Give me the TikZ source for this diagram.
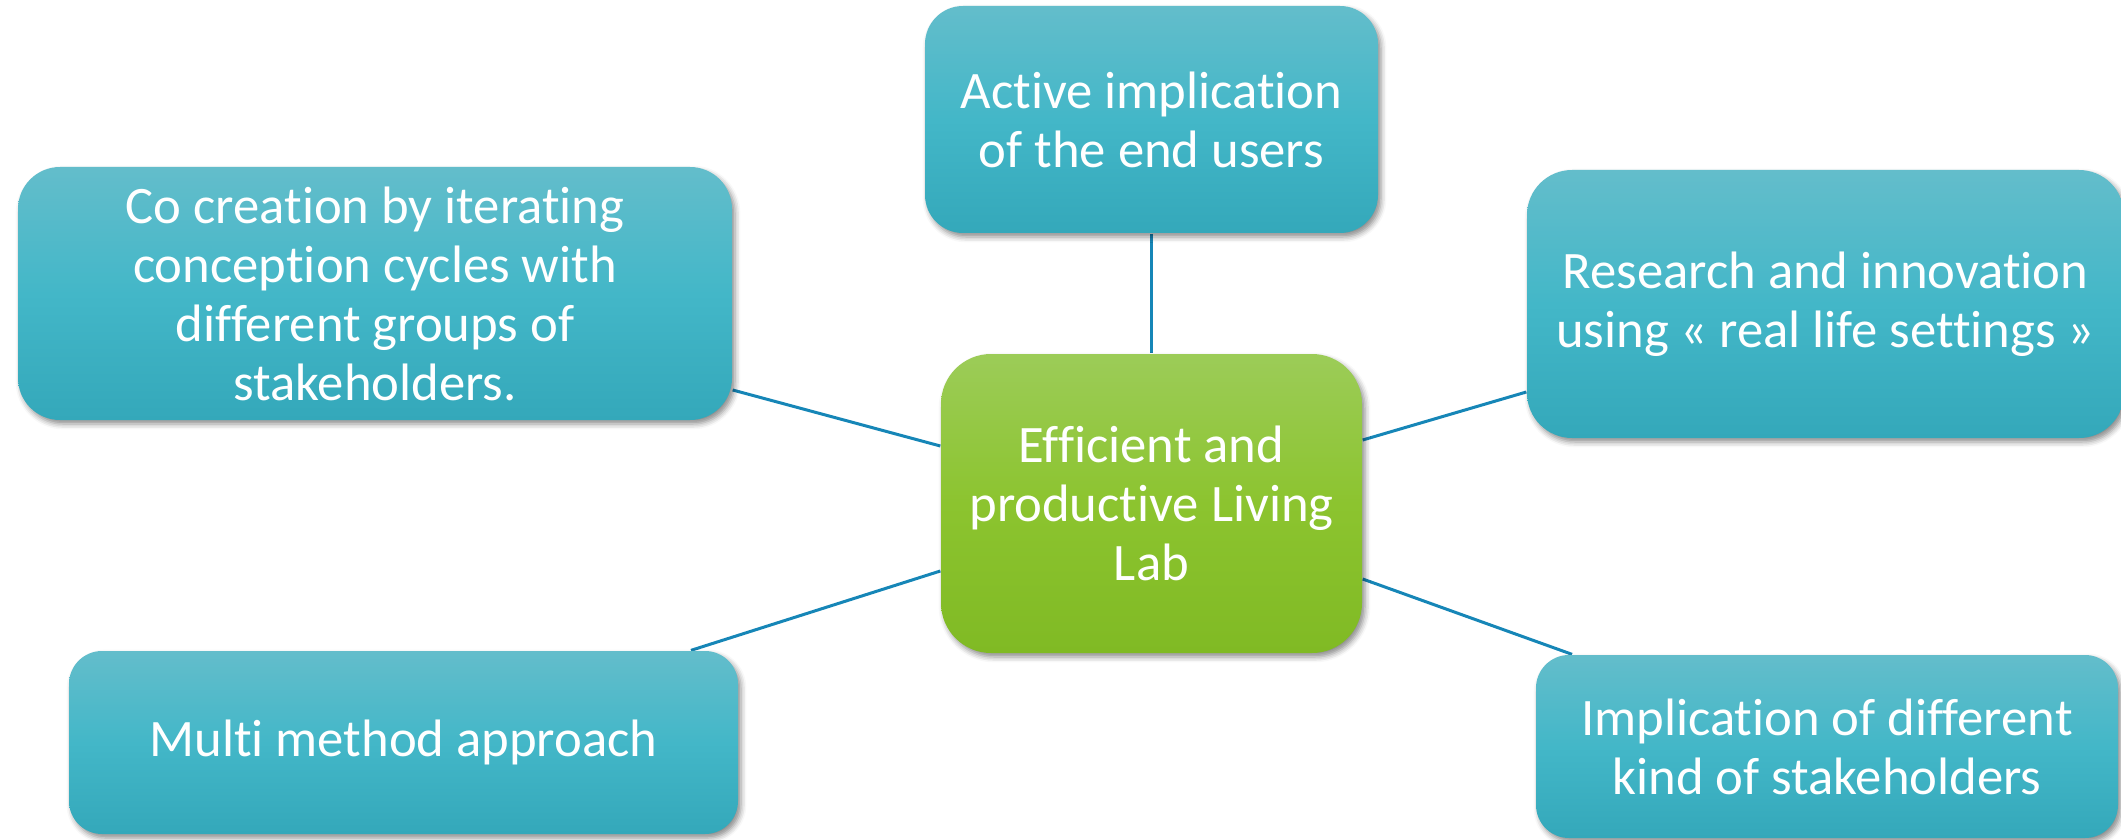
\documentclass[tikz,border=0pt]{standalone}
\usepackage{fontspec}
\setmainfont[Ligatures=NoCommon]{Carlito}
\usetikzlibrary{shadows.blur,backgrounds}
\definecolor{tealtop}{RGB}{99,189,203}
\definecolor{tealmid}{RGB}{67,183,200}
\definecolor{tealbot}{RGB}{52,168,186}
\definecolor{greentop}{RGB}{156,204,88}
\definecolor{greenmid}{RGB}{140,196,47}
\definecolor{greenbot}{RGB}{128,186,36}
\definecolor{linkcol}{RGB}{22,134,183}
\begin{document}
\begin{tikzpicture}[x=0.3pt,y=-0.3pt,
  boxbase/.style={inner sep=0pt, align=center, text=white,
    font=\fontsize{15.8}{17.7}\selectfont,
    blur shadow={shadow xshift=0.9pt, shadow yshift=-1.2pt, shadow blur radius=1.6pt, shadow opacity=45}},
  tealbox/.style={boxbase, top color=tealtop, bottom color=tealbot, middle color=tealmid},
  greenbox/.style={boxbase, top color=greentop, bottom color=greenbot, middle color=greenmid},
  link/.style={draw=linkcol, line width=0.9pt}]
\useasboundingbox (0,0) rectangle (2121,840);
\node[tealbox, minimum width=135.9pt, minimum height=68.1pt, rounded corners=11.4pt] (top) at (1151.5,119.5) {Active implication\\of the end users};
\node[tealbox, minimum width=214.2pt, minimum height=75.9pt, rounded corners=12.6pt] (co) at (375,293.5) {Co creation by iterating\\conception cycles with\\different groups of\\stakeholders.};
\node[tealbox, minimum width=179.1pt, minimum height=80.4pt, rounded corners=13.5pt] (rt) at (1825.5,304) {Research and innovation\\using « real life settings »};
\node[greenbox, minimum width=126.3pt, minimum height=89.7pt, rounded corners=15pt] (ctr) at (1151.5,503.5) {Efficient and\\productive Living\\Lab};
\node[tealbox, minimum width=200.7pt, minimum height=54.9pt, rounded corners=9.9pt] (bl) at (403.5,742.5) {Multi method approach};
\node[tealbox, minimum width=174.6pt, minimum height=54.9pt, rounded corners=9.9pt] (br) at (1827,746.5) {Implication of different\\kind of stakeholders};
\begin{scope}[on background layer]
\draw[link] (top.south) -- (ctr.north);
\draw[link] ([yshift=-28.95pt]co.east) -- ([yshift=17.25pt]ctr.west);
\draw[link] ([xshift=86.25pt]bl.north) -- ([yshift=-20.25pt]ctr.west);
\draw[link] ([yshift=-26.4pt]rt.west) -- ([yshift=19.05pt]ctr.east);
\draw[link] ([xshift=-76.5pt]br.north) -- ([yshift=-22.65pt]ctr.east);
\end{scope}
\end{tikzpicture}
\end{document}
